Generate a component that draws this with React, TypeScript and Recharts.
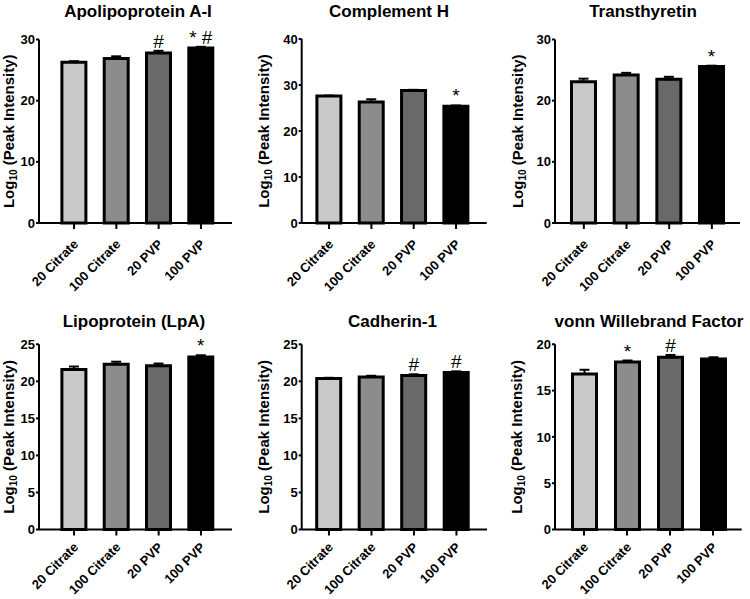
import React from "react";
import { BarChart, Bar, XAxis, YAxis, Cell, ErrorBar, LabelList } from "recharts";

const FONT = "'Liberation Sans', Arial, sans-serif";

const categories = ["20 Citrate", "100 Citrate", "20 PVP", "100 PVP"];
const barColors = ["#c9c9c9", "#8c8c8c", "#696969", "#000000"];

// means and sem
const apoMean = [26.3, 26.9, 27.8, 28.6];
const apoSem = [0.15, 0.35, 0.35, 0.2];
const apoSig = ["", "", "#", "* #"];

const compMean = [27.6, 26.3, 28.8, 25.4];
const compSem = [0.1, 0.6, 0.15, 0.15];
const compSig = ["", "", "", "*"];

const ttrMean = [23.1, 24.2, 23.5, 25.6];
const ttrSem = [0.5, 0.35, 0.4, 0.12];
const ttrSig = ["", "", "", "*"];

const lpaMean = [21.6, 22.3, 22.1, 23.3];
const lpaSem = [0.4, 0.35, 0.3, 0.22];
const lpaSig = ["", "", "", "*"];

const cadMean = [20.4, 20.6, 20.8, 21.2];
const cadSem = [0.08, 0.15, 0.15, 0.15];
const cadSig = ["", "", "#", "#"];

const vwfMean = [16.8, 18.1, 18.6, 18.4];
const vwfSem = [0.45, 0.15, 0.25, 0.2];
const vwfSig = ["", "*", "#", ""];

const ticks30 = [0, 10, 20, 30];
const ticks40 = [0, 10, 20, 30, 40];
const ticks25 = [0, 5, 10, 15, 20, 25];
const ticks20 = [0, 5, 10, 15, 20];

type Panel = {
  title: string;
  mean: number[];
  sem: number[];
  sig: string[];
  ticks: number[];
  left: number;
  top: number;
  h: number;
  axisX: number;
  plotTop: number;
  plotBottom: number;
  plotRight: number;
  padL: number;
  padR: number;
  titleX: number;
  titleY: number;
  labelX: number;
  tickDy: number;
};

const panels: Panel[] = [
  { title: "Apolipoprotein A-I", mean: apoMean, sem: apoSem, sig: apoSig, ticks: ticks30,
    left: 0, top: 0, h: 300, axisX: 39, plotTop: 39.5, plotBottom: 223, plotRight: 232, padL: 13.9, padR: 9.9,
    titleX: 138, titleY: 17, labelX: 14, tickDy: 14 },
  { title: "Complement H", mean: compMean, sem: compSem, sig: compSig, ticks: ticks40,
    left: 250, top: 0, h: 300, axisX: 51.7, plotTop: 39, plotBottom: 223, plotRight: 236.7, padL: 6.2, padR: 9.5,
    titleX: 139, titleY: 17, labelX: 19, tickDy: 14 },
  { title: "Transthyretin", mean: ttrMean, sem: ttrSem, sig: ttrSig, ticks: ticks30,
    left: 500, top: 0, h: 300, axisX: 55, plotTop: 39.5, plotBottom: 223, plotRight: 240, padL: 7.5, padR: 6.8,
    titleX: 143, titleY: 17, labelX: 22.5, tickDy: 14 },
  { title: "Lipoprotein (LpA)", mean: lpaMean, sem: lpaSem, sig: lpaSig, ticks: ticks25,
    left: 0, top: 300, h: 299, axisX: 39, plotTop: 44.3, plotBottom: 229.5, plotRight: 232, padL: 13.9, padR: 9.9,
    titleX: 134, titleY: 27, labelX: 14, tickDy: 10.5 },
  { title: "Cadherin-1", mean: cadMean, sem: cadSem, sig: cadSig, ticks: ticks25,
    left: 250, top: 300, h: 299, axisX: 51.7, plotTop: 44.3, plotBottom: 229.5, plotRight: 237, padL: 6, padR: 9.3,
    titleX: 142.5, titleY: 27, labelX: 19, tickDy: 10.5 },
  { title: "vonn Willebrand Factor", mean: vwfMean, sem: vwfSem, sig: vwfSig, ticks: ticks20,
    left: 500, top: 300, h: 299, axisX: 55, plotTop: 44.3, plotBottom: 229.5, plotRight: 241.7, padL: 7.5, padR: 7.2,
    titleX: 149, titleY: 27, labelX: 22, tickDy: 10.5 },
];

const XTick = (props: any) => {
  const { x, y, payload, dyOff } = props;
  const ax = x + 5;
  const ay = y + dyOff;
  return (
    <text
      x={ax}
      y={ay}
      transform={`rotate(-45, ${ax}, ${ay})`}
      textAnchor="end"
      fontSize={13}
      fontWeight={700}
      fontFamily={FONT}
      fill="#000"
    >
      {payload.value}
    </text>
  );
};

const panelText = (p: Panel) => () => {
  const cy = (p.plotTop + p.plotBottom) / 2;
  return (
    <g>
      <text x={p.titleX} y={p.titleY} textAnchor="middle" fontSize={17} fontWeight={700} fontFamily={FONT} fill="#000">
        {p.title}
      </text>
      <text
        x={p.labelX}
        y={cy}
        transform={`rotate(-90, ${p.labelX}, ${cy})`}
        textAnchor="middle"
        fontSize={15}
        fontWeight={700}
        fontFamily={FONT}
        fill="#000"
      >
        Log
        <tspan fontSize={10} dy={3}>10</tspan>
        <tspan dy={-3}> (Peak Intensity)</tspan>
      </text>
    </g>
  );
};

const sigLabel = (p: Panel) => (props: any) => {
  const vb = props.viewBox ?? props;
  const { x, y, width, height } = vb;
  const idx = props.index;
  const value = props.value;
  if (!value) return null;
  const pxPerUnit = height / p.mean[idx];
  const top = y - p.sem[idx] * pxPerUnit - 3;
  return (
    <text x={x + width / 2} y={top} textAnchor="middle" fontSize={19} fontFamily={FONT} fill="#000">
      {value}
    </text>
  );
};

const PanelChart = ({ p }: { p: Panel }) => {
  const data = categories.map((name, i) => ({
    name,
    value: p.mean[i],
    err: [0, p.sem[i]],
    sig: p.sig[i],
  }));
  const yMax = p.ticks[p.ticks.length - 1];
  return (
    <div style={{ position: "absolute", left: p.left, top: p.top }}>
      <BarChart
        width={250}
        height={p.h}
        data={data}
        margin={{ top: p.plotTop, right: 250 - p.plotRight, left: 0, bottom: p.h - p.plotBottom - 60 }}
      >
        <XAxis
          dataKey="name"
          interval={0}
          height={60}
          padding={{ left: p.padL, right: p.padR }}
          axisLine={{ stroke: "#000", strokeWidth: 2 }}
          tickLine={{ stroke: "#000", strokeWidth: 2 }}
          tickSize={6}
          tick={<XTick dyOff={p.tickDy} />}
        />
        <YAxis
          width={p.axisX}
          domain={[0, yMax]}
          ticks={p.ticks}
          interval={0}
          axisLine={{ stroke: "#000", strokeWidth: 2 }}
          tickLine={{ stroke: "#000", strokeWidth: 2 }}
          tickSize={3}
          tickMargin={1}
          tick={{ fill: "#000", fontSize: 13, fontWeight: 700, fontFamily: FONT }}
          label={{ content: panelText(p) }}
        />
        <Bar dataKey="value" barSize={24} stroke="#000" strokeWidth={3} isAnimationActive={false}>
          {data.map((d, i) => (
            <Cell key={d.name} fill={barColors[i]} />
          ))}
          <ErrorBar dataKey="err" direction="y" width={5} stroke="#000" strokeWidth={2} isAnimationActive={false} />
          <LabelList dataKey="sig" content={sigLabel(p)} />
        </Bar>
      </BarChart>
    </div>
  );
}

export default function App() {
  return (
    <div
      style={{
        position: "absolute",
        left: 0,
        top: 0,
        width: 750,
        height: 599,
        background: "#fff",
        fontFamily: FONT,
      }}
    >
      {panels.map((p) => (
        <PanelChart key={p.title} p={p} />
      ))}
    </div>
  );
}
